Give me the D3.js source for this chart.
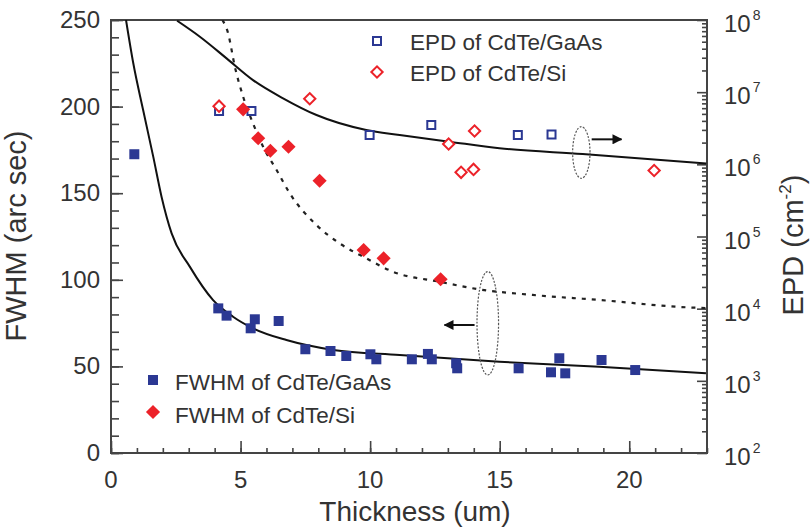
<!DOCTYPE html>
<html><head><meta charset="utf-8">
<script src="https://cdn.jsdelivr.net/npm/d3@7"></script>
<style>body{margin:0;background:#fff}svg{display:block}text{font-family:"Liberation Sans",Arial,sans-serif;fill:#333}</style>
</head><body><svg id="c" width="810" height="529"></svg>
<script>
// ---- data ----
const xTicks = [0, 5, 10, 15, 20];
const fwhmTicks = [0, 50, 100, 150, 200, 250];
const epdTicks = [1e2, 1e3, 1e4, 1e5, 1e6, 1e7, 1e8];
const epdTickExps = ["2", "3", "4", "5", "6", "7", "8"];

// FWHM of CdTe/GaAs  [thickness um, FWHM arcsec]
const fwhmGaAs = [[0.9,172.5],[4.14,83.5],[4.46,79.3],[5.39,72.0],[5.55,77.2],[6.47,76.2],[7.5,59.9],[8.47,58.9],[9.08,56.0],[10.01,57.0],[10.24,54.1],[11.61,54.1],[12.23,57.2],[12.38,54.1],[13.32,51.8],[13.36,48.9],[15.73,48.9],[16.98,46.6],[17.3,54.7],[17.53,46.0],[18.93,53.7],[20.23,47.9]];
// FWHM of CdTe/Si
const fwhmSi = [[5.1,198.4],[5.68,181.7],[6.15,174.5],[6.85,176.8],[8.05,157.2],[9.75,117.2],[10.52,112.4],[12.72,100.3]];
// EPD of CdTe/GaAs [thickness um, EPD cm^-2]
const epdGaAs = [[4.17,5.5e6],[5.42,5.5e6],[9.98,2.55e6],[12.36,3.5e6],[15.7,2.55e6],[17.0,2.6e6]];
// EPD of CdTe/Si
const epdSi = [[4.17,6.4e6],[7.67,8.1e6],[13.03,1.91e6],[14.03,2.9e6],[13.51,7.75e5],[13.99,8.5e5],[20.96,8.2e5]];

// fitted curves
const fwhmFit = [[0.58,250],[0.86,225],[1.24,198],[1.63,171.1],[1.95,148],[2.34,126.8],[3.04,107.6],[3.94,88.3],[4.71,78.7],[5.48,72.0],[6.77,65.2],[8.57,59.5],[11.14,56.6],[14.99,52.7],[18.84,49.8],[22.96,46.0]];
const epdGaAsFit = [[2.55,9.77e7],[3.43,5.86e7],[4.46,2.94e7],[5.48,1.47e7],[6.64,8.22e6],[7.93,4.82e6],[9.85,2.99e6],[11.14,2.55e6],[13.06,2.06e6],[14.99,1.67e6],[18.2,1.39e6],[22.97,1.03e6]];
const epdSiFit = [[4.3,1e8],[4.52,6.53e7],[4.78,2.25e7],[5.1,8.65e6],[5.48,3.7e6],[5.87,1.75e6],[6.39,8.34e5],[6.9,3.96e5],[7.93,1.44e5],[8.82,8.05e4],[9.85,4.99e4],[10.88,3.25e4],[12.68,2.36e4],[14.22,1.85e4],[16.27,1.55e4],[18.84,1.32e4],[22.31,1.04e4],[22.97,1.02e4]];

// annotation ellipses [cx, cy(FWHM units), rx, ry] and arrows [x1, x2, y(FWHM units)]
const ellipses = [[18.15,173.5,0.335,14.9],[14.54,74.9,0.416,29.85]];
const arrows = [[18.55,19.7,181.1],[14.03,12.87,73.9]];

// ---- layout ----
const L = 111, R = 707, T = 20, B = 453;
const blue = "#2b3893", red = "#ec2229";
const svg = d3.select("#c");
const x = d3.scaleLinear().domain([0, 23]).range([L, R]);
const yL = d3.scaleLinear().domain([0, 250]).range([B, T]);
const yR = d3.scaleLog().domain([1e2, 1e8]).range([B, T]);

const defs = svg.append("defs");
defs.append("clipPath").attr("id","clip").append("rect")
  .attr("x",L).attr("y",T).attr("width",R-L).attr("height",B-T);
defs.append("marker").attr("id","ah").attr("viewBox","0 0 10 10").attr("refX",9).attr("refY",5)
  .attr("markerWidth",5).attr("markerHeight",5).attr("orient","auto")
  .append("path").attr("d","M0,0L10,5L0,10Z").attr("fill","#111");

// axes
const axCol = "#444";
const gB = svg.append("g").attr("transform",`translate(0,${B})`)
  .call(d3.axisTop(x).tickValues(d3.range(0,24,1)).tickFormat("").tickSize(5));
const gB2 = svg.append("g").attr("transform",`translate(0,${B})`)
  .call(d3.axisTop(x).tickValues(xTicks).tickFormat("").tickSize(12));
const gL = svg.append("g").attr("transform",`translate(${L},0)`)
  .call(d3.axisRight(yL).tickValues(d3.range(0,251,10)).tickFormat("").tickSize(8));
const gL2 = svg.append("g").attr("transform",`translate(${L},0)`)
  .call(d3.axisRight(yL).tickValues(fwhmTicks).tickFormat("").tickSize(12));
const minorLog = [];
for (let e = 2; e < 8; e++) for (let m = 2; m <= 9; m++) minorLog.push(m * Math.pow(10, e));
const gR = svg.append("g").attr("transform",`translate(${R},0)`)
  .call(d3.axisLeft(yR).tickValues(minorLog).tickFormat("").tickSize(5));
const gR2 = svg.append("g").attr("transform",`translate(${R},0)`)
  .call(d3.axisLeft(yR).tickValues(epdTicks).tickFormat("").tickSize(10));
[gB,gB2,gL,gL2,gR,gR2].forEach(g=>{g.select(".domain").remove();g.selectAll("line").attr("stroke",axCol).attr("stroke-width",1.6);});
svg.append("rect").attr("x",L).attr("y",T).attr("width",R-L).attr("height",B-T)
  .attr("fill","none").attr("stroke",axCol).attr("stroke-width",2);

// tick labels
svg.append("g").selectAll("text").data(xTicks).join("text")
  .attr("x",d=>x(d)).attr("y",B+35).attr("text-anchor","middle").attr("font-size",24).text(d=>d);
svg.append("g").selectAll("text").data(fwhmTicks).join("text")
  .attr("x",L-11).attr("y",d=>yL(d)+8).attr("text-anchor","end").attr("font-size",24).text(d=>d);
const rl = svg.append("g").selectAll("text").data(epdTicks).join("text")
  .attr("x",R+17).attr("y",d=>yR(d)+12).attr("font-size",24);
rl.append("tspan").text("10");
rl.append("tspan").attr("dy",-12).attr("dx",2).attr("font-size",14).text((d,i)=>epdTickExps[i]);

// axis titles
svg.append("text").attr("transform",`translate(${L/2-30},236) rotate(-90)`).attr("text-anchor","middle")
  .attr("font-size",29).text("FWHM (arc sec)");
const rt = svg.append("text").attr("transform",`translate(803,245) rotate(-90)`).attr("text-anchor","middle")
  .attr("font-size",29);
rt.append("tspan").text("EPD (cm");
rt.append("tspan").attr("dy",-12).attr("font-size",17).text("-2");
rt.append("tspan").attr("dy",12).text(")");
svg.append("text").attr("x",415).attr("y",521).attr("text-anchor","middle").attr("font-size",28).text("Thickness (um)");

// curves
const plot = svg.append("g").attr("clip-path","url(#clip)");
const lineL = d3.line().x(d=>x(d[0])).y(d=>yL(d[1])).curve(d3.curveMonotoneX);
const lineR = d3.line().x(d=>x(d[0])).y(d=>yR(d[1])).curve(d3.curveMonotoneX);
plot.append("path").attr("d",lineL(fwhmFit)).attr("fill","none").attr("stroke","#111").attr("stroke-width",2);
plot.append("path").attr("d",lineR(epdGaAsFit)).attr("fill","none").attr("stroke","#111").attr("stroke-width",2);
plot.append("path").attr("d",lineR(epdSiFit)).attr("fill","none").attr("stroke","#222").attr("stroke-width",2.2).attr("stroke-dasharray","4,6");

// ellipses and arrows
svg.append("g").selectAll("ellipse").data(ellipses).join("ellipse")
  .attr("cx",d=>x(d[0])).attr("cy",d=>yL(d[1])).attr("rx",d=>x(d[2])-x(0)).attr("ry",d=>yL(0)-yL(d[3]))
  .attr("fill","none").attr("stroke","#555").attr("stroke-width",1.2).attr("stroke-dasharray","2,1.5");
svg.append("g").selectAll("line").data(arrows).join("line")
  .attr("x1",d=>x(d[0])).attr("x2",d=>x(d[1])).attr("y1",d=>yL(d[2])).attr("y2",d=>yL(d[2]))
  .attr("stroke","#111").attr("stroke-width",2).attr("marker-end","url(#ah)");

// markers
const sq = d3.symbol().type(d3.symbolSquare);
const pts = svg.append("g");
pts.selectAll(".eg").data(epdGaAs).join("path").attr("class","eg")
  .attr("transform",d=>`translate(${x(d[0])},${yR(d[1])})`).attr("d",sq.size(64)())
  .attr("fill","#fff").attr("stroke",blue).attr("stroke-width",2);
pts.selectAll(".es").data(epdSi).join("path").attr("class","es")
  .attr("transform",d=>`translate(${x(d[0])},${yR(d[1])}) rotate(45)`).attr("d",sq.size(64)())
  .attr("fill","#fff").attr("stroke",red).attr("stroke-width",2);
pts.selectAll(".fg").data(fwhmGaAs).join("path").attr("class","fg")
  .attr("transform",d=>`translate(${x(d[0])},${yL(d[1])})`).attr("d",sq.size(100)())
  .attr("fill",blue);
pts.selectAll(".fs").data(fwhmSi).join("path").attr("class","fs")
  .attr("transform",d=>`translate(${x(d[0])},${yL(d[1])}) rotate(45)`).attr("d",sq.size(100)())
  .attr("fill",red);

// legends
const leg = svg.append("g");
leg.append("path").attr("transform","translate(377,41)").attr("d",sq.size(64)()).attr("fill","#fff").attr("stroke",blue).attr("stroke-width",2);
leg.append("text").attr("x",410).attr("y",50).attr("font-size",22.5).text("EPD of CdTe/GaAs");
leg.append("path").attr("transform","translate(377,72) rotate(45)").attr("d",sq.size(64)()).attr("fill","#fff").attr("stroke",red).attr("stroke-width",2);
leg.append("text").attr("x",410).attr("y",81).attr("font-size",22.5).text("EPD of CdTe/Si");
leg.append("path").attr("transform","translate(153,380)").attr("d",sq.size(100)()).attr("fill",blue);
leg.append("text").attr("x",175).attr("y",390).attr("font-size",22.5).text("FWHM of CdTe/GaAs");
leg.append("path").attr("transform","translate(153,412) rotate(45)").attr("d",sq.size(100)()).attr("fill",red);
leg.append("text").attr("x",175).attr("y",423).attr("font-size",22.5).text("FWHM of CdTe/Si");
</script></body></html>
